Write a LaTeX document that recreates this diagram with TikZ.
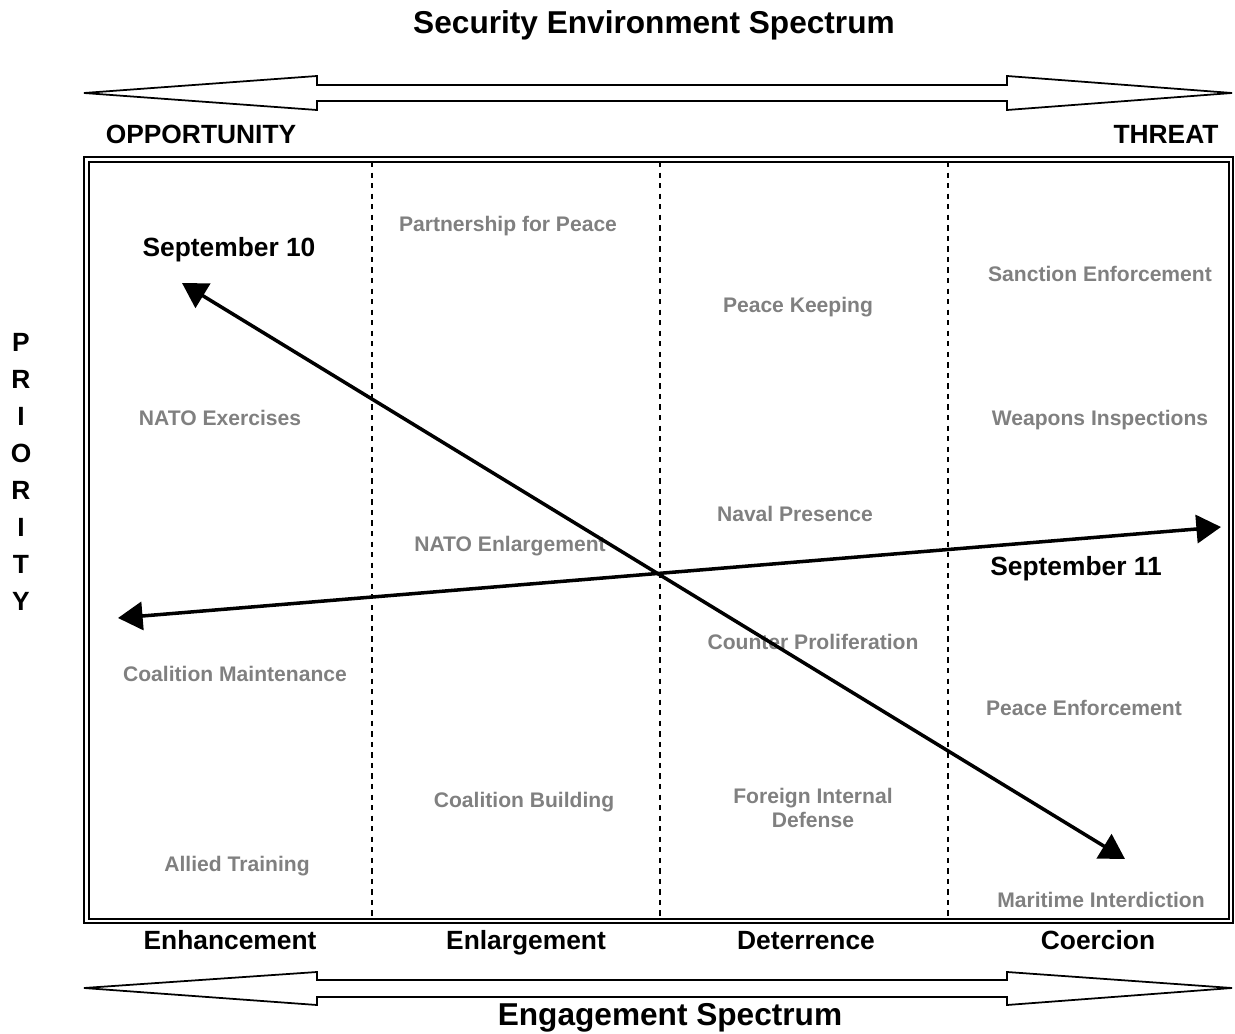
\documentclass[tikz,border=0pt]{standalone}
\usepackage{fontspec}
\setmainfont{Liberation Sans}
\usetikzlibrary{arrows.meta}

\begin{document}
\begin{tikzpicture}[x=0.02cm, y=-0.02cm,
    heading/.style={font=\bfseries\fontsize{18}{20}\selectfont},
    sidelabel/.style={font=\bfseries\fontsize{15}{17}\selectfont, text depth=3pt},
    mission/.style={text=black!50, align=center, font=\bfseries\fontsize{12}{14}\selectfont},
    divider/.style={dashed, line width=0.8pt},
    spectrum/.style={line width=1pt, fill=white},
    trend/.style={line width=2pt, {Triangle[length=14pt, width=16pt]}-{Triangle[length=14pt, width=16pt]}}]
        \useasboundingbox (0,0) rectangle (1235,1034);

        % spectrum arrows
        \draw[spectrum] (84,93) -- (317,76) -- (317,85) -- (1007,85) -- (1007,76) -- (1232,93)
          -- (1007,110) -- (1007,101) -- (317,101) -- (317,110) -- cycle;
        \draw[spectrum] (84,988) -- (317,972) -- (317,980) -- (1007,980) -- (1007,972) -- (1232,988)
          -- (1007,1005) -- (1007,997) -- (317,997) -- (317,1005) -- cycle;

        \node[heading] (security) at (654,25) {Security Environment Spectrum};
        \node[heading] (engagement) at (670,1018) {Engagement Spectrum};
        \node[sidelabel] (opportunity) at (201,137) {OPPORTUNITY};
        \node[sidelabel] (threat) at (1166,137) {THREAT};

        \foreach \ch [count=\i] in {P,R,I,O,R,I,T,Y}
          \node[sidelabel] (prio\i) at (21,345+37*\i-37) {\ch};

        % frame and columns
        \draw[line width=0.8pt] (84,157) rectangle (1233,923);
        \draw[line width=0.8pt] (89,162) rectangle (1229,919);
        \foreach \x in {372,660,948}
          \draw[divider] (\x,162) -- (\x,919);

        \node[sidelabel] (enhancement) at (230,943) {Enhancement};
        \node[sidelabel] (enlargement) at (526,943) {Enlargement};
        \node[sidelabel] (deterrence) at (806,943) {Deterrence};
        \node[sidelabel] (coercion) at (1098,943) {Coercion};

        % missions
        \node[mission] (pfp) at (508,226) {Partnership for Peace};
        \node[mission] (sanction) at (1100,274) {Sanction Enforcement};
        \node[mission] (keeping) at (798,307) {Peace Keeping};
        \node[mission] (exercises) at (220,418) {NATO Exercises};
        \node[mission] (weapons) at (1100,420) {Weapons Inspections};
        \node[mission] (naval) at (795,514) {Naval Presence};
        \node[mission] (natoenl) at (510,546) {NATO Enlargement};
        \node[mission] (counter) at (813,642) {Counter Proliferation};
        \node[mission] (maintenance) at (235,674) {Coalition Maintenance};
        \node[mission] (enforcement) at (1084,708) {Peace Enforcement};
        \node[mission] (building) at (524,802) {Coalition Building};
        \node[mission] (fid) at (813,808) {Foreign Internal\\Defense};
        \node[mission] (training) at (237,866) {Allied Training};
        \node[mission] (maritime) at (1101,900) {Maritime Interdiction};

        % the two shifts
        \node[sidelabel] (sepTen) at (229,250) {September 10};
        \node[sidelabel] (sepEleven) at (1076,569) {September 11};
        \coordinate (tenStart) at (182,283);
        \coordinate (tenEnd) at (1125,859);
        \coordinate (elevenStart) at (118,618);
        \coordinate (elevenEnd) at (1221,527);
        \draw[trend] (tenStart) -- (tenEnd);
        \draw[trend] (elevenStart) -- (elevenEnd);
      \end{tikzpicture}
\end{document}
